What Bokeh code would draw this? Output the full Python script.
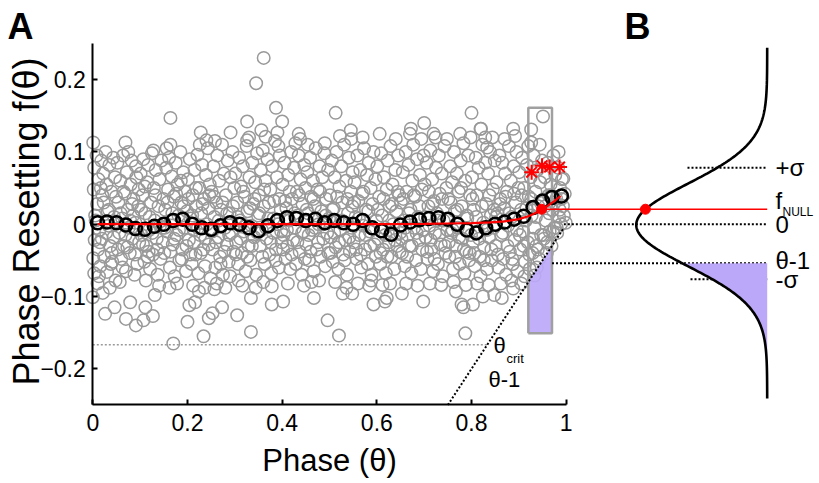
import numpy as np
from bokeh.plotting import figure
from bokeh.models import Label, FixedTicker, Range1d
from bokeh.embed import file_html
from bokeh.resources import INLINE

# ---------------- data ----------------
# individual phase-resetting samples (theta, f) in thousandths
GRAY_BAND = [
    (1,113),(3,78),(2,48),(5,12),(4,-22),(1,-47),(3,-68),(8,95),(12,62),(9,28),(14,-8),(11,-35),(16,-58),
    (18,88),(20,40),(22,70),(19,-20),(24,-45),(27,100),(29,55),(31,18),(30,-66),(33,-2),(35,82),(37,-30),
    (39,45),(41,-52),(43,92),(45,10),(47,65),(48,-78),(36,-88),(21,-95),(13,-72),
    (52,85),(54,30),(56,-12),(58,60),(60,-48),(62,8),(64,95),(66,-30),(68,42),(70,-65),(72,72),(74,20),
    (76,-5),(78,-40),(80,55),(82,88),(84,-20),(86,35),(88,-70),(90,2),(92,65),(94,-55),(96,25),(98,-25),
    (57,-80),(75,100),(91,80),(63,-60),(85,12),
    (101,70),(103,-15),(105,40),(107,90),(109,-52),(111,15),(113,-30),(115,58),(117,82),(119,-8),(121,-62),
    (123,30),(125,98),(127,-42),(129,50),(131,5),(133,75),(135,-20),(137,-70),(139,25),(141,62),(143,-48),
    (145,88),(147,-5),(149,35),(112,-78),(128,102),(140,-85),(118,-38),
    (151,-40),(153,20),(155,78),(157,-10),(159,48),(161,92),(163,-60),(165,5),(167,66),(169,-28),(171,38),
    (173,-72),(175,85),(177,-15),(179,55),(181,12),(183,-50),(185,100),(187,30),(189,-35),(191,72),(193,-5),
    (195,45),(197,-65),(199,18),(162,-88),(178,-82),(186,60),(156,105),
    (201,62),(203,-22),(205,90),(207,8),(209,-55),(211,40),(213,-8),(215,75),(217,-42),(219,25),(221,96),
    (223,-68),(225,50),(227,-15),(229,15),(231,82),(233,-35),(235,35),(237,-58),(239,68),(241,0),(243,105),
    (245,-28),(247,55),(249,-75),(212,-85),(236,-88),(226,110),(244,22),
    (251,45),(253,-35),(255,80),(257,10),(259,-60),(261,30),(263,95),(265,-18),(267,60),(269,-45),(271,20),
    (273,110),(275,-70),(277,70),(279,-5),(281,40),(283,-28),(285,88),(287,-52),(289,15),(291,65),(293,-12),
    (295,100),(297,-38),(299,50),(262,-82),(280,-88),(258,115),(290,-72),
    (301,70),(303,-25),(305,30),(307,-55),(309,92),(311,5),(313,52),(315,-40),(317,80),(319,-10),(321,38),
    (323,-65),(325,108),(327,18),(329,-30),(331,65),(333,-50),(335,-2),(337,85),(339,28),(341,-18),(343,58),
    (345,-70),(347,98),(349,12),(316,-85),(330,120),(344,-88),(308,-78),
    (351,40),(353,-30),(355,75),(357,-8),(359,102),(361,25),(363,-55),(365,60),(367,-20),(369,90),(371,8),
    (373,-42),(375,48),(377,-68),(379,80),(381,-12),(383,32),(385,115),(387,-35),(389,65),(391,0),(393,-60),
    (395,95),(397,20),(399,-25),(360,-80),(378,-86),(392,108),(356,130),
    (401,55),(403,-15),(405,85),(407,-48),(409,22),(411,-30),(413,68),(415,5),(417,-62),(419,100),(421,35),
    (423,-22),(425,78),(427,-5),(429,-55),(431,45),(433,12),(435,95),(437,-38),(439,62),(441,-70),(443,28),
    (445,-10),(447,82),(449,50),(412,-82),(428,112),(446,-85),(438,118),
    (451,-28),(453,72),(455,15),(457,-50),(459,92),(461,38),(463,-8),(465,60),(467,-65),(469,25),(471,105),
    (473,-35),(475,48),(477,0),(479,80),(481,-45),(483,18),(485,65),(487,-20),(489,98),(491,-58),(493,35),
    (495,-12),(497,75),(499,8),(462,-80),(478,-78),(490,112),(454,110),
    (501,40),(503,-18),(505,88),(507,-52),(509,22),(511,65),(513,-32),(515,100),(517,5),(519,-62),(521,52),
    (523,-8),(525,80),(527,30),(529,-42),(531,110),(533,-22),(535,60),(537,-70),(539,15),(541,92),(543,-38),
    (545,45),(547,-5),(549,72),(512,-80),(536,-88),(522,122),(546,118),
    (551,-25),(553,58),(555,10),(557,-48),(559,95),(561,32),(563,-15),(565,75),(567,-60),(569,42),(571,-2),
    (573,105),(575,-35),(577,20),(579,68),(581,-55),(583,85),(585,-10),(587,50),(589,-70),(591,28),(593,100),
    (595,-28),(597,62),(599,5),(560,-82),(584,-85),(570,120),(588,-78),
    (601,80),(603,-20),(605,38),(607,-55),(609,98),(611,12),(613,-35),(615,65),(617,-5),(619,-68),(621,48),
    (623,88),(625,-25),(627,25),(629,108),(631,-45),(633,55),(635,0),(637,-62),(639,75),(641,18),(643,-30),
    (645,95),(647,40),(649,-12),(612,-84),(628,-82),(640,118),(606,125),
    (651,30),(653,-40),(655,72),(657,5),(659,-58),(661,100),(663,45),(665,-15),(667,82),(669,-30),(671,20),
    (673,-68),(675,60),(677,110),(679,-5),(681,38),(683,-50),(685,90),(687,10),(689,-22),(691,68),(693,-62),
    (695,48),(697,-8),(699,95),(662,-82),(686,-85),(670,125),(694,118),
    (701,55),(703,-18),(705,85),(707,-48),(709,25),(711,-2),(713,102),(715,-35),(717,62),(719,-65),(721,32),
    (723,-12),(725,78),(727,15),(729,-55),(731,95),(733,42),(735,-28),(737,70),(739,-72),(741,5),(743,108),
    (745,-40),(747,50),(749,-8),(712,-82),(736,-84),(724,120),(748,118),
    (751,35),(753,-45),(755,80),(757,-12),(759,58),(761,-62),(763,100),(765,18),(767,-30),(769,70),(771,-5),
    (773,45),(775,-55),(777,88),(779,25),(781,-20),(783,112),(785,-68),(787,60),(789,-38),(791,8),(793,95),
    (795,-50),(797,40),(799,-15),(762,-80),(788,-84),(776,125),(798,120),
    (801,65),(803,-25),(805,20),(807,-58),(809,92),(811,40),(813,-10),(815,78),(817,-45),(819,-72),(821,55),
    (823,110),(825,2),(827,-32),(829,85),(831,28),(833,-62),(835,70),(837,-18),(839,100),(841,12),(843,-50),
    (845,48),(847,-5),(849,88),(812,-82),(836,-84),(820,132),(844,120),
    (851,-30),(853,58),(855,15),(857,-60),(859,95),(861,35),(863,-15),(865,85),(867,-48),(869,22),(871,70),
    (873,-70),(875,45),(877,-2),(879,108),(881,-38),(883,60),(885,10),(887,-55),(889,80),(891,-22),(893,30),
    (895,100),(897,-65),(899,50),(862,-82),(884,-78),(870,118),(892,122),
    (901,72),(903,-35),(905,20),(907,92),(909,-10),(911,50),(913,-52),(915,5),(917,82),(919,-25),(921,38),
    (923,-62),(925,65),(927,12),(929,-40),(931,95),(933,-5),(935,45),(937,-30),(939,75),(941,25),(943,-48),
    (945,58),(947,-15),(949,88),(912,-72),(938,-60),(920,108),(944,110),
    (951,30),(953,-20),(955,65),(957,5),(959,-40),(961,85),(963,40),(965,-10),(967,55),(969,-30),(971,20),
    (973,95),(975,-5),(977,68),(979,35),(981,-12),(983,78),(985,10),(987,50),(989,0),(991,62),(993,25),
    (995,12),(997,42),(999,2),
]
GRAY_CORE = [
    (6,5),(15,-25),(23,30),(28,-12),(34,20),(40,-40),(44,-18),(49,38),(17,50),(38,-55),
    (53,-35),(59,15),(65,45),(69,-15),(73,-32),(79,5),(83,28),(89,-42),(93,-8),(97,48),
    (102,20),(106,-28),(110,52),(116,-45),(120,10),(126,-12),(132,40),(136,-35),(142,-2),(148,-25),
    (152,-5),(158,30),(164,-38),(168,15),(172,-20),(176,42),(182,-8),(188,-48),(192,25),(198,-30),
    (202,35),(206,-42),(210,12),(214,-25),(218,50),(222,-5),(228,-40),(232,28),(238,-20),(246,40),
    (252,-10),(256,38),(260,-25),(266,5),(270,-55),(274,30),(278,-38),(284,15),(288,-15),(296,25),
    (302,-42),(306,10),(312,-20),(318,45),(322,-2),(326,-45),(332,22),(336,-30),(342,35),(348,-12),
    (352,15),(358,-45),(362,48),(366,-5),(372,30),(376,-25),(382,8),(386,-50),(394,35),(398,-10),
    (402,-35),(406,32),(410,-8),(416,45),(420,-42),(426,15),(432,-25),(436,40),(442,-12),(448,-48),
    (452,20),(456,-15),(460,-38),(466,35),(470,-5),(476,-25),(480,45),(486,0),(492,12),(498,-40),
    (502,-40),(506,20),(510,-12),(516,38),(520,-25),(526,5),(532,-50),(538,35),(542,-18),(548,25),
    (552,30),(556,-35),(562,8),(566,-42),(572,45),(576,-15),(582,18),(586,-30),(592,-5),(598,-45),
    (602,20),(608,-40),(614,35),(618,-15),(622,-45),(626,5),(632,28),(638,-22),(644,45),(648,-38),
    (652,-20),(656,35),(660,-5),(664,-45),(668,15),(674,-30),(678,40),(684,-12),(690,25),(696,-35),
    (702,10),(706,-38),(710,45),(714,-22),(718,28),(722,-48),(728,5),(732,-15),(738,35),(744,-30),
    (752,-25),(756,30),(760,-8),(766,-45),(770,20),(774,-18),(778,50),(784,-35),(790,12),(796,-40),
    (802,35),(806,-40),(810,10),(816,-20),(822,25),(826,-50),(832,-8),(838,40),(842,-35),(848,20),
    (852,10),(856,-42),(860,28),(866,-12),(872,38),(876,-30),(880,15),(886,-48),(890,42),(896,-8),
    (902,-15),(906,40),(910,-30),(916,22),(922,-42),(926,35),(930,-20),(936,10),(940,-35),(946,30),
    (952,-15),(956,25),(960,-25),(964,15),(968,40),(972,-10),(976,30),(980,-5),(986,20),(990,35),
]
GRAY_UPPER = [
    (69,113),(164,147),(164,110),(228,127),(240,116),(291,127),(326,142),(326,116),(345,195),(361,230),
    (365,121),(387,161),(400,142),(390,127),(435,125),(513,154),(545,130),(672,132),(700,140),(720,125),
    (800,154),(819,132),(829,120),(833,106),(888,132),(926,131),(951,149),(926,113),(984,100),(994,63),
]
GRAY_LOWER = [
    (0,-101),(10,-82),(26,-124),(46,-115),(70,-131),(79,-108),(91,-140),(111,-115),(107,-133),(127,-127),
    (131,-98),(170,-165),(200,-135),(204,-112),(216,-108),(234,-155),(253,-123),(245,-130),(224,-93),
    (257,-90),(273,-115),(305,-126),(334,-149),(334,-102),(378,-111),(402,-107),(467,-102),(496,-133),
    (520,-154),(528,-96),(548,-96),(593,-111),(617,-107),(621,-102),(653,-96),(698,-107),(767,-93),
    (783,-115),(779,-111),(803,-111),(787,-151),(824,-100),(848,-98),(864,-102),(888,-89),(905,-82),
    (933,-71),
]

# binned means (black circles)
BIN_X = [0.01,0.03,0.05,0.07,0.09,0.11,0.13,0.15,0.17,0.19,0.21,0.23,0.25,0.27,0.29,0.31,0.33,0.35,0.37,
         0.39,0.41,0.43,0.45,0.47,0.49,0.51,0.53,0.55,0.57,0.59,0.61,0.63,0.65,0.67,0.69,0.71,0.73,0.75,
         0.77,0.79,0.81,0.83,0.85,0.87,0.89,0.91,0.93,0.95,0.97,0.99]
BIN_Y = [0.002,0.003,0.002,-0.001,-0.006,-0.007,-0.003,0.0,0.005,0.007,0.0,-0.005,-0.007,-0.002,0.002,
         0.0,-0.005,-0.009,-0.002,0.005,0.009,0.008,0.005,0.007,0.002,0.005,0.002,0.0,0.005,-0.005,-0.009,
         -0.014,-0.001,0.003,0.006,0.008,0.009,0.007,0.0,-0.008,-0.012,-0.005,0.0,0.003,0.007,0.011,0.023,
         0.032,0.037,0.039]

# smooth fit (red curve)
FIT_X = [0.01,0.1,0.2,0.3,0.4,0.5,0.6,0.7,0.75,0.8,0.84,0.87,0.9,0.92,0.94,0.96,0.975,0.988]
FIT_Y = [0.0,0.0,0.0,0.0,0.0,0.0,0.0,0.0005,0.001,0.0015,0.0025,0.004,0.007,0.011,0.017,0.025,0.032,0.039]

# significant bins (red asterisks)
STAR_X = [0.927, 0.949, 0.965, 0.986]
STAR_Y = [0.072, 0.081, 0.079, 0.079]

# key values
F_NULL = 0.0207
THETA_NULL = 0.948
THETA_CRIT_F = -1/6
WIN_X = [0.92, 0.97]
WIN_Y = [-0.151, 0.161]
THETA_M1 = -0.054
SIGMA_MARK = [0.078, -0.076]

# panel B gaussian parameters
B_BASE = 1.4246
B_AMP = 0.2766
B_MU = -0.001
B_SIGMA = 0.057
B_Y = [-0.241, 0.244]

FONT = "Liberation Sans"
GRAY = "#999999"
PURPLE = "#BCA8F8"


def X(px_):
    return (px_ - 92.3) / 473.4


def Y(py_):
    return (223.7 - py_) / 723


# ---------------- figure ----------------
p = figure(width=819, height=483, x_range=Range1d(X(0), X(819)), y_range=Range1d(Y(483), Y(0)),
           output_backend="svg", toolbar_location=None,
           min_border_left=0, min_border_right=0, min_border_top=0, min_border_bottom=0)
p.xgrid.visible = False
p.ygrid.visible = False
p.outline_line_color = None
p.background_fill_color = "white"

for ax in (p.xaxis[0], p.yaxis[0]):
    ax.axis_line_width = 2
    ax.axis_line_color = "black"
    ax.major_tick_in = 5
    ax.major_tick_out = 0
    ax.major_tick_line_width = 2
    ax.major_tick_line_color = "black"
    ax.minor_tick_line_color = None
    ax.major_label_text_font = FONT
    ax.major_label_text_font_size = "23px"
    ax.major_label_text_color = "black"

p.xaxis.fixed_location = -0.25
p.yaxis.fixed_location = 0
p.xaxis.bounds = (0, 1)
p.yaxis.bounds = (-0.25, 0.25)
p.xaxis.ticker = FixedTicker(ticks=[0, 0.2, 0.4, 0.6, 0.8, 1])
p.xaxis.major_label_overrides = {0: "0", 0.2: "0.2", 0.4: "0.4", 0.6: "0.6", 0.8: "0.8", 1: "1"}
p.yaxis.ticker = FixedTicker(ticks=[-0.2, -0.1, 0, 0.1, 0.2])
p.yaxis.major_label_overrides = {-0.2: "\u22120.2", -0.1: "\u22120.1", 0: "0", 0.1: "0.1", 0.2: "0.2"}
p.xaxis.major_label_standoff = 9
p.yaxis.major_label_standoff = 7

pts = GRAY_BAND + GRAY_CORE + GRAY_UPPER + GRAY_LOWER
gx = [a / 1000 for a, b in pts]
gy = [b / 1000 for a, b in pts]
p.scatter(gx, gy, marker="circle", size=12.5, fill_color=None, line_color=GRAY, line_width=1.5)

# theta_crit gray dotted line
p.line([0, 1 + THETA_CRIT_F], [THETA_CRIT_F, THETA_CRIT_F], line_color="#9a9a9a",
       line_width=1.5, line_dash="2 2")

# purple region in window (below theta-1)
px = [WIN_X[0], WIN_X[1], WIN_X[1], WIN_X[0]]
py = [WIN_Y[0], WIN_Y[0], WIN_X[1] - 1, WIN_X[0] - 1]
p.patch(px, py, fill_color=PURPLE, fill_alpha=0.92, line_color=None)

# window rectangle
p.line([WIN_X[0], WIN_X[1], WIN_X[1], WIN_X[0], WIN_X[0]],
       [WIN_Y[0], WIN_Y[0], WIN_Y[1], WIN_Y[1], WIN_Y[0]], line_color="#a0a0a0", line_width=2.5)

# theta-1 diagonal
p.line([0.75, 0.995], [0.75 - 1, 0.995 - 1], line_color="black", line_width=2, line_dash="2 2")
# horizontal dotted guide lines into panel B
p.line([0.995, B_BASE], [0, 0], line_color="black", line_width=2, line_dash="2 2")
p.line([WIN_X[1], B_BASE], [THETA_M1, THETA_M1], line_color="black", line_width=2, line_dash="2 2")
p.line([X(687), B_BASE], [SIGMA_MARK[0]] * 2, line_color="black", line_width=2, line_dash="2 2")
p.line([X(690), B_BASE], [SIGMA_MARK[1]] * 2, line_color="black", line_width=2, line_dash="2 2")

# binned means
p.scatter(BIN_X, BIN_Y, marker="circle", size=13, fill_color=None, line_color="black", line_width=2.5)

# fit
p.line(FIT_X, FIT_Y, line_color="#ff0000", line_width=2.2)
p.line([THETA_NULL, B_BASE], [F_NULL, F_NULL], line_color="#ff0000", line_width=1.5)

# gaussian (panel B)
yy = np.linspace(B_Y[0], B_Y[1], 300)
xx = B_BASE - B_AMP * np.exp(-0.5 * ((yy - B_MU) / B_SIGMA) ** 2)
mask = yy <= THETA_M1
p.patch(np.concatenate([xx[mask], [B_BASE, B_BASE]]),
        np.concatenate([yy[mask], [THETA_M1, yy[mask][0]]]),
        fill_color=PURPLE, line_color=None)
p.line(xx, yy, line_color="black", line_width=2.6)

x_null_b = B_BASE - B_AMP * np.exp(-0.5 * ((F_NULL - B_MU) / B_SIGMA) ** 2)
p.scatter([THETA_NULL, x_null_b], [F_NULL, F_NULL], marker="circle", size=10,
          fill_color="#ff0000", line_color="#ff0000")
p.scatter(STAR_X, STAR_Y, marker="asterisk", size=15, line_color="#ff0000", line_width=2)


# ---------------- texts ----------------
def lab(x, y, t, size, bold=False, align="left", angle=0, baseline="middle"):
    p.add_layout(Label(x=x, y=y, text=t, text_font=FONT, text_font_size=size,
                       text_font_style="bold" if bold else "normal", text_align=align,
                       text_baseline=baseline, angle=angle, text_color="black"))


lab(X(7), Y(26), "A", "36px", bold=True)
lab(X(624), Y(26), "B", "36px", bold=True)
lab(X(26), Y(221), "Phase Resetting f(\u03b8)", "36px", align="center", angle=np.pi / 2)
lab(0.5, Y(460), "Phase (\u03b8)", "31px", align="center")

lab(X(493), Y(345), "\u03b8", "22px")
lab(X(506), Y(358), "crit", "13px")
lab(X(488), Y(378.5), "\u03b8-1", "22px")

lab(X(775), Y(166.7), "+\u03c3", "24px")
lab(X(775), Y(200), "f", "24px")
lab(X(782), Y(211), "NULL", "12px")
lab(X(775), Y(224), "0", "24px")
lab(X(775), Y(260), "\u03b8-1", "24px")
lab(X(775), Y(279), "-\u03c3", "24px")

open("out.html", "w").write(file_html(p, INLINE))
